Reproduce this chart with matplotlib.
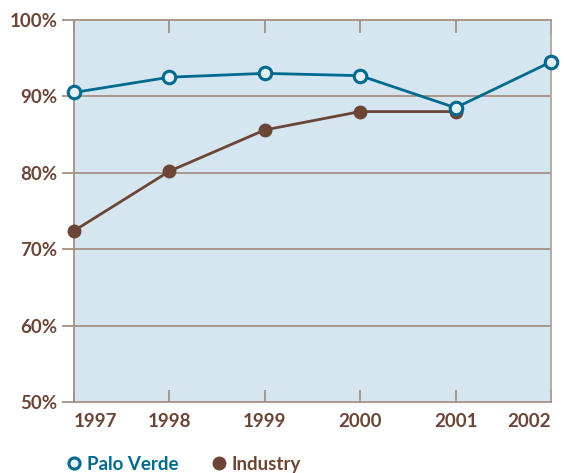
import matplotlib
matplotlib.use('Agg')
import matplotlib.pyplot as plt
from matplotlib.lines import Line2D

years = [1997, 1998, 1999, 2000, 2001, 2002]
palo_verde = [90.5, 92.5, 93.0, 92.7, 88.5, 94.5]
industry_years = [1997, 1998, 1999, 2000, 2001]
industry = [72.4, 80.2, 85.6, 88.0, 88.0]
y_ticks = [50, 60, 70, 80, 90, 100]

blue = '#006a8e'
brown = '#6b4536'
grid_c = '#a68f84'
bg = '#d5e6f1'

plt.rcParams['font.family'] = ['Lato', 'DejaVu Sans']

fig = plt.figure(figsize=(5.64, 4.73), dpi=100)
ax = fig.add_axes([0.1312, 0.150, 0.8458, 0.808])
ax.set_facecolor(bg)

ax.plot(industry_years, industry, color=brown, lw=2, marker='o', ms=9,
        mfc=brown, mec=brown, zorder=3, clip_on=False)
ax.plot(years, palo_verde, color=blue, lw=2, marker='o', ms=9,
        mfc='#e4eff6', mec=blue, mew=2.2, zorder=4, clip_on=False)

ax.set_xlim(1997, 2002)
ax.set_ylim(50, 100)
ax.set_yticks(y_ticks)
ax.set_yticklabels([f'{v}%' for v in y_ticks])
ax.set_xticks(years)
ax.set_xticklabels([str(y) for y in years])

for v in y_ticks[1:-1]:
    ax.axhline(v, color=grid_c, lw=1.3, zorder=1)

for s in ['left', 'bottom', 'top']:
    ax.spines[s].set_color(grid_c)
    ax.spines[s].set_linewidth(1.3)
ax.spines['right'].set_color('#b0a49e')
ax.spines['right'].set_linewidth(1.3)

ax.tick_params(axis='y', direction='out', length=9, width=1.3, color=grid_c,
               labelcolor=brown, labelsize=13.5, pad=3)
ax.tick_params(axis='x', direction='in', length=9, width=1.3, color=grid_c,
               labelcolor=brown, labelsize=13.5, pad=8, top=True)
for lab in ax.get_xticklabels() + ax.get_yticklabels():
    lab.set_fontweight('bold')
xl = ax.get_xticklabels()
xl[0].set_horizontalalignment('left')
xl[-1].set_horizontalalignment('right')

handles = [
    Line2D([], [], ls='none', marker='o', ms=8, mfc='#e4eff6', mec=blue, mew=2.2),
    Line2D([], [], ls='none', marker='o', ms=9, mfc=brown, mec=brown),
]
leg = fig.legend(handles, ['Palo Verde', 'Industry'], loc='lower left',
                 bbox_to_anchor=(0.092, -0.035), ncol=2, frameon=False,
                 handlelength=0.6, handletextpad=0.35, columnspacing=1.9,
                 prop={'weight': 'bold', 'size': 13.5})
leg.get_texts()[0].set_color(blue)
leg.get_texts()[1].set_color(brown)

fig.savefig('out.png', dpi=100)
